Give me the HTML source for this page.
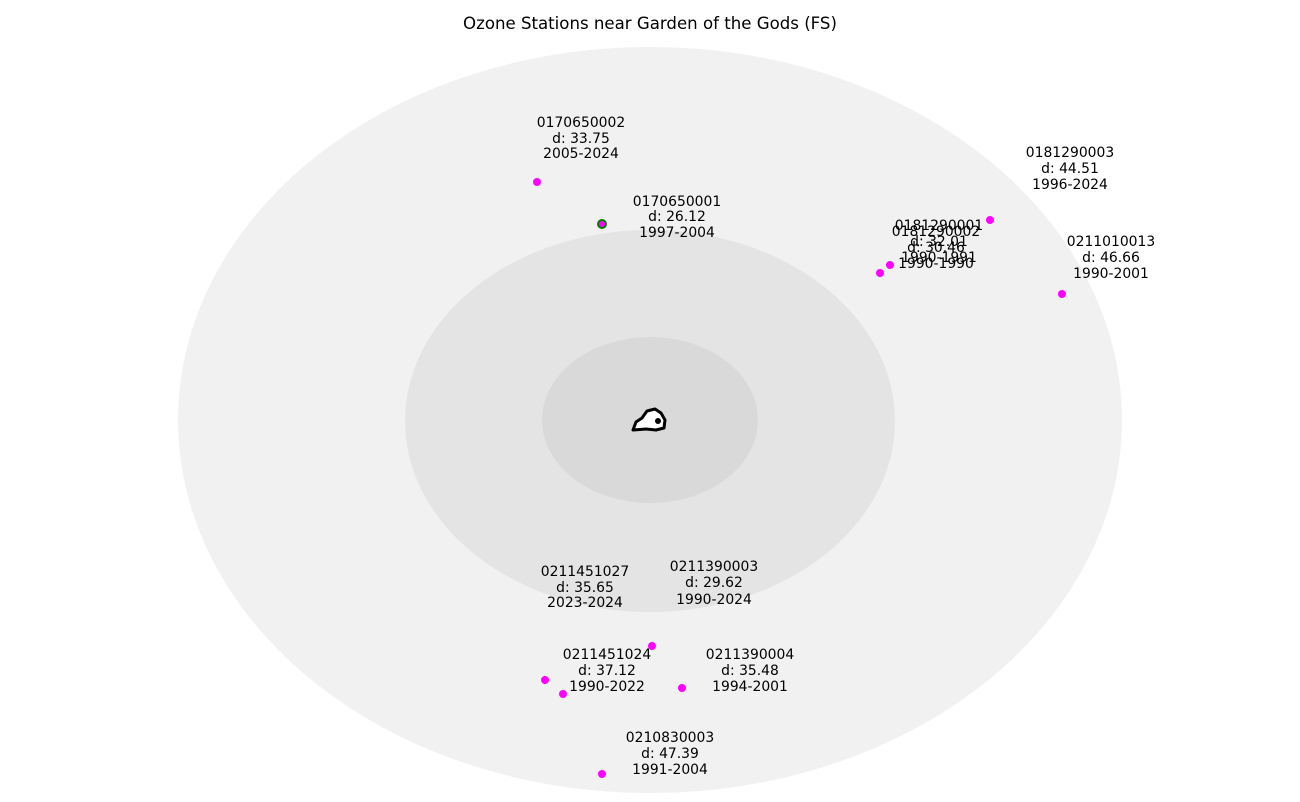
<!DOCTYPE html>
<html><head><meta charset="utf-8"><style>
html,body{margin:0;padding:0;background:#fff;}
svg{display:block;}
text{font-family:"DejaVu Sans","Liberation Sans",sans-serif;font-size:13.9px;fill:#000;text-anchor:middle;}
</style></head><body>
<svg width="1300" height="802" viewBox="0 0 1300 802" xmlns="http://www.w3.org/2000/svg">
<rect width="1300" height="802" fill="#fff"/>
<ellipse cx="650" cy="420" rx="472" ry="373" fill="#f1f1f1"/>
<ellipse cx="650" cy="421" rx="245" ry="191" fill="#e4e4e4"/>
<ellipse cx="650" cy="420" rx="108" ry="83" fill="#d9d9d9"/>
<path d="M633,430 L636,422 L642,418 L647,411 L655,409 L661,413 L665,420 L664,428 L656,430 L646,429 Z" fill="#fff" stroke="#000" stroke-width="3" stroke-linejoin="round"/>
<circle cx="658" cy="421" r="3" fill="#000"/>
<text x="650" y="29" style="font-size:16.6px">Ozone Stations near Garden of the Gods (FS)</text>
<g fill="#ff00ff">
<circle cx="537" cy="182" r="4"/>
<circle cx="602" cy="224" r="5" fill="#008000"/>
<circle cx="602" cy="224" r="3"/>
<circle cx="990" cy="220" r="4"/>
<circle cx="890" cy="265" r="4"/>
<circle cx="880" cy="273" r="4"/>
<circle cx="1062" cy="294" r="4"/>
<circle cx="652" cy="646" r="4"/>
<circle cx="545" cy="680" r="4"/>
<circle cx="563" cy="694" r="4"/>
<circle cx="682" cy="688" r="4"/>
<circle cx="602" cy="774" r="4"/>
</g>
<g>
<text x="581" y="127">0170650002</text><text x="581" y="143">d: 33.75</text><text x="581" y="158">2005-2024</text>
<text x="677" y="206">0170650001</text><text x="677" y="221">d: 26.12</text><text x="677" y="237">1997-2004</text>
<text x="1070" y="157">0181290003</text><text x="1070" y="173">d: 44.51</text><text x="1070" y="189">1996-2024</text>
<text x="939" y="230">0181290001</text><text x="939" y="246">d: 32.01</text><text x="939" y="262">1990-1991</text>
<text x="936" y="236">0181290002</text><text x="936" y="252">d: 30.46</text><text x="936" y="268">1990-1990</text>
<text x="1111" y="246">0211010013</text><text x="1111" y="262">d: 46.66</text><text x="1111" y="278">1990-2001</text>
<text x="585" y="576">0211451027</text><text x="585" y="592">d: 35.65</text><text x="585" y="607">2023-2024</text>
<text x="714" y="571">0211390003</text><text x="714" y="587">d: 29.62</text><text x="714" y="604">1990-2024</text>
<text x="607" y="659">0211451024</text><text x="607" y="675">d: 37.12</text><text x="607" y="691">1990-2022</text>
<text x="750" y="659">0211390004</text><text x="750" y="675">d: 35.48</text><text x="750" y="691">1994-2001</text>
<text x="670" y="742">0210830003</text><text x="670" y="758">d: 47.39</text><text x="670" y="774">1991-2004</text>
</g>
</svg>
</body></html>
